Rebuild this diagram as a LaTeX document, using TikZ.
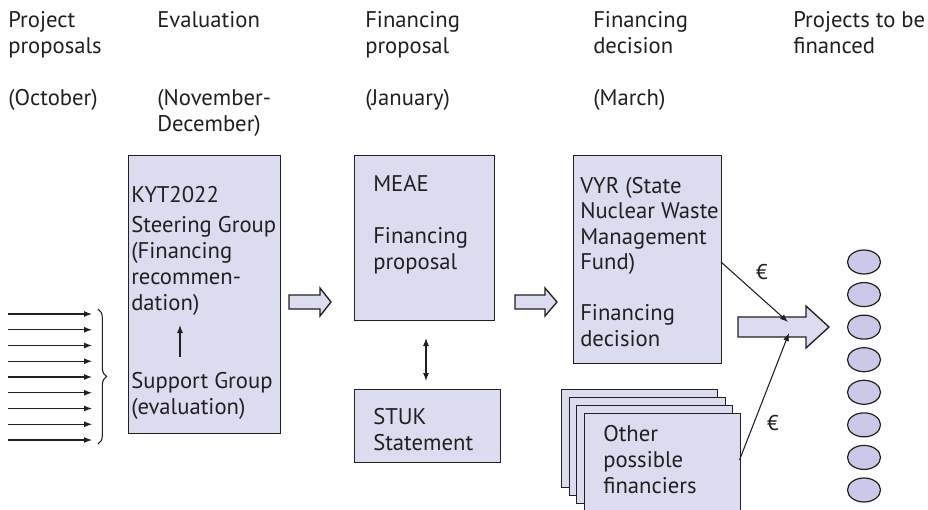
\documentclass[tikz,border=0pt]{standalone}
\usepackage{fontspec}
\setmainfont{PT Sans}
\usetikzlibrary{shapes.geometric,decorations.pathreplacing,arrows.meta}
\definecolor{boxfill}{HTML}{DCDCF0}
\definecolor{ovalfill}{HTML}{CBC9E9}
\definecolor{ink}{HTML}{231F20}
\begin{document}
\begin{tikzpicture}[x=0.75pt,y=-0.75pt,
  txt/.style={anchor=base west, inner sep=0pt, font=\fontsize{17}{21}\selectfont, text=ink},
  euro/.style={anchor=center, inner sep=0pt, font=\fontsize{16}{20}\selectfont, text=ink},
  box/.style={draw=ink, fill=boxfill, line width=1.1pt, anchor=north west, inner sep=0pt},
  thinarrow/.style={draw=ink, line width=0.8pt, -{Latex[length=6pt,width=4.5pt]}},
  dblarrow/.style={draw=ink, line width=0.8pt, {Latex[length=6pt,width=4.5pt]}-{Latex[length=6pt,width=4.5pt]}},
  blockarrow/.style={draw=ink, fill=boxfill, line width=1pt, line join=miter},
  oval/.style={ellipse, draw=ink, fill=ovalfill, line width=0.9pt, minimum width=24.75pt, minimum height=18pt, inner sep=0pt}]
\useasboundingbox (0,0) rectangle (928,510);

% column headings
\node[txt] (h1a) at (8,28) {Project};
\node[txt] (h1b) at (8,54) {proposals};
\node[txt] (h1c) at (8,106) {(October)};
\node[txt] (h2a) at (157,28) {Evaluation};
\node[txt] (h2c) at (157,106) {(November-};
\node[txt] (h2d) at (157,132) {December)};
\node[txt] (h3a) at (365,28) {Financing};
\node[txt] (h3b) at (365,54) {proposal};
\node[txt] (h3c) at (365,106) {(January)};
\node[txt] (h4a) at (593,28) {Financing};
\node[txt] (h4b) at (593,54) {decision};
\node[txt] (h4c) at (593,106) {(March)};
\node[txt] (h5a) at (793,28) {Projects to be};
\node[txt] (h5b) at (793,54) {financed};

% incoming proposals
\foreach \i in {0,...,8} {
  \coordinate (in\i s) at (8,{314+\i*15.75});
  \coordinate (in\i e) at (92,{314+\i*15.75});
  \draw[thinarrow] (in\i s) -- (in\i e);
}
\coordinate (brtop) at (98,309);
\coordinate (brbot) at (98,444);
\draw[ink, line width=0.8pt, decorate, decoration={brace, amplitude=6.5pt}] (brtop) -- (brbot);

% KYT2022 box
\node[box, minimum width=114pt, minimum height=208.5pt] (kyt) at (128,155) {};
\node[txt] (k1) at (131,202) {KYT2022};
\node[txt] (k2) at (131,232) {Steering Group};
\node[txt] (k3) at (131,258) {(Financing};
\node[txt] (k4) at (131,284) {recommen-};
\node[txt] (k5) at (131,310) {dation)};
\node[txt] (k6) at (131,388) {Support Group};
\node[txt] (k7) at (131,414) {(evaluation)};
\coordinate (kup1) at (180,357);
\coordinate (kup2) at (180,325);
\draw[thinarrow] (kup1) -- (kup2);

% block arrow 1
\coordinate (ba1) at (289,302);
\draw[blockarrow] (ba1) ++(0,-7) -- ++(31,0) -- ++(0,-7) -- ++(11,14) -- ++(-11,14) -- ++(0,-7) -- ++(-31,0) -- cycle;

% MEAE box
\node[box, minimum width=105pt, minimum height=123.75pt] (meae) at (354,155) {};
\node[txt] (m1) at (373,191) {MEAE};
\node[txt] (m2) at (373,243) {Financing};
\node[txt] (m3) at (373,269) {proposal};

% STUK box
\node[box, minimum width=109.5pt, minimum height=54.75pt] (stuk) at (354,389) {};
\node[txt] (s1) at (373,424) {STUK};
\node[txt] (s2) at (373,450) {Statement};
\coordinate (d1) at (426,338);
\coordinate (d2) at (426,381);
\draw[dblarrow] (d1) -- (d2);

% block arrow 2
\coordinate (ba2) at (515,302);
\draw[blockarrow] (ba2) ++(0,-7) -- ++(30,0) -- ++(0,-7) -- ++(12,14) -- ++(-12,14) -- ++(0,-7) -- ++(-30,0) -- cycle;

% VYR box
\node[box, minimum width=111pt, minimum height=156pt] (vyr) at (573,155) {};
\node[txt] (v1) at (580,193) {VYR (State};
\node[txt] (v2) at (580,218.5) {Nuclear Waste};
\node[txt] (v3) at (580,244) {Management};
\node[txt] (v4) at (580,269.5) {Fund)};
\node[txt] (v5) at (580,320.5) {Financing};
\node[txt] (v6) at (580,346) {decision};

% other financiers (stack)
\node[box, minimum width=117pt, minimum height=73.5pt] (st1) at (561,389) {};
\node[box, minimum width=117pt, minimum height=73.5pt] (st2) at (568.5,397) {};
\node[box, minimum width=117pt, minimum height=73.5pt] (st3) at (576,405) {};
\node[box, minimum width=117pt, minimum height=73.5pt] (st4) at (583.5,413) {};
\node[txt] (o1) at (603,441) {Other};
\node[txt] (o2) at (603,467) {possible};
\node[txt] (o3) at (603,493) {financiers};

% big arrow to projects
\coordinate (big) at (738,327);
\draw[blockarrow] (big) ++(0,-10) -- ++(68,0) -- ++(0,-11) -- ++(23,21) -- ++(-23,21) -- ++(0,-11) -- ++(-68,0) -- cycle;

% euro flows
\coordinate (e1s) at (721,262);
\coordinate (e1e) at (788,322);
\draw[thinarrow] (e1s) -- (e1e);
\node[euro] (eur1) at (762,272) {€};
\coordinate (e2s) at (739.5,460);
\coordinate (e2e) at (789,333);
\draw[thinarrow] (e2s) -- (e2e);
\node[euro] (eur2) at (773,423) {€};

% projects to be financed
\foreach \i in {0,...,7} {
  \node[oval] (p\i) at (864,{262+\i*32.57}) {};
}
\end{tikzpicture}
\end{document}
